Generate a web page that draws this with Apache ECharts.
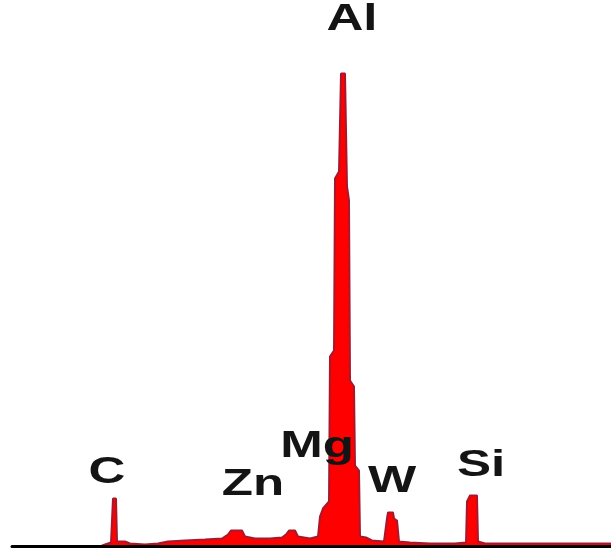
<!DOCTYPE html>
<html>
<head>
<meta charset="utf-8">
<title>EDS spectrum</title>
<script src="https://cdn.jsdelivr.net/npm/echarts@6/dist/echarts.min.js"></script>
<style>
  html, body { margin: 0; padding: 0; background: #ffffff; }
  #chart { width: 611px; height: 548px; }
</style>
</head>
<body>
<div id="chart"></div>
<script>
// Detector channel of each sample along the energy axis
const channels = [
  0, 88, 93, 99, 101, 104, 105, 113, 118, 133, 146, 156, 173, 193, 210, 216,
  219, 230, 233, 243, 258, 270, 274, 277, 283, 286, 298, 306, 308, 311, 317,
  318, 322, 323, 327, 329, 333, 335, 337, 338, 342, 343, 347, 348, 354, 360,
  372, 375, 376, 381, 382, 385, 387, 398, 418, 443, 454, 455, 458, 465, 466,
  473, 508, 548, 599
];

// Counts recorded at each channel
const counts = [
  0, 0, 2, 4, 48, 48, 5, 5, 3, 2, 3, 5, 6, 7, 8, 12,
  16, 16, 10, 8, 8, 9, 12, 16, 16, 10, 8, 10, 30, 38, 45,
  190, 196, 368, 375, 473, 473, 360, 346, 166, 160, 81, 76, 10, 9, 6,
  5, 28, 34, 34, 28, 26, 5, 4, 3, 3, 4, 45, 51, 51, 5,
  3, 3, 3, 3
];

// Element lines annotated on the spectrum
const elements = ['C', 'Zn', 'Mg', 'Al', 'W', 'Si'];

// Label anchor points (text centre) in screen pixels
const labelX = [107, 253, 317, 352, 392, 481];
const labelY = [473, 485, 447, 20, 482, 466];

const spectrum = channels.map((c, i) => [c, counts[i]]);

const chart = echarts.init(document.getElementById('chart'), null, { renderer: 'canvas' });

chart.setOption({
  animation: false,
  backgroundColor: '#ffffff',
  grid: { left: 12, right: 0, top: 46.5, bottom: 1.5 },
  xAxis: {
    type: 'value',
    min: 0,
    max: 599,
    z: 5,
    axisLine: { show: true, onZero: false, lineStyle: { color: '#000000', width: 3 } },
    axisTick: { show: false },
    axisLabel: { show: false },
    splitLine: { show: false }
  },
  yAxis: {
    type: 'value',
    min: 0,
    max: 500,
    show: false,
    splitLine: { show: false }
  },
  series: [{
    type: 'line',
    data: spectrum,
    showSymbol: false,
    smooth: false,
    lineStyle: { color: '#a8182c', width: 2 },
    areaStyle: { color: '#ff0000', opacity: 1 },
    emphasis: { disabled: true }
  }],
  graphic: elements.map((name, i) => ({
    type: 'text',
    x: labelX[i],
    y: labelY[i],
    scaleX: 1.38,
    z: 10,
    style: {
      text: name,
      x: 0,
      y: 0,
      fill: '#141414',
      font: 'bold 37px "Liberation Sans", Arial, sans-serif',
      textAlign: 'center',
      textVerticalAlign: 'middle'
    }
  }))
});
</script>
</body>
</html>
